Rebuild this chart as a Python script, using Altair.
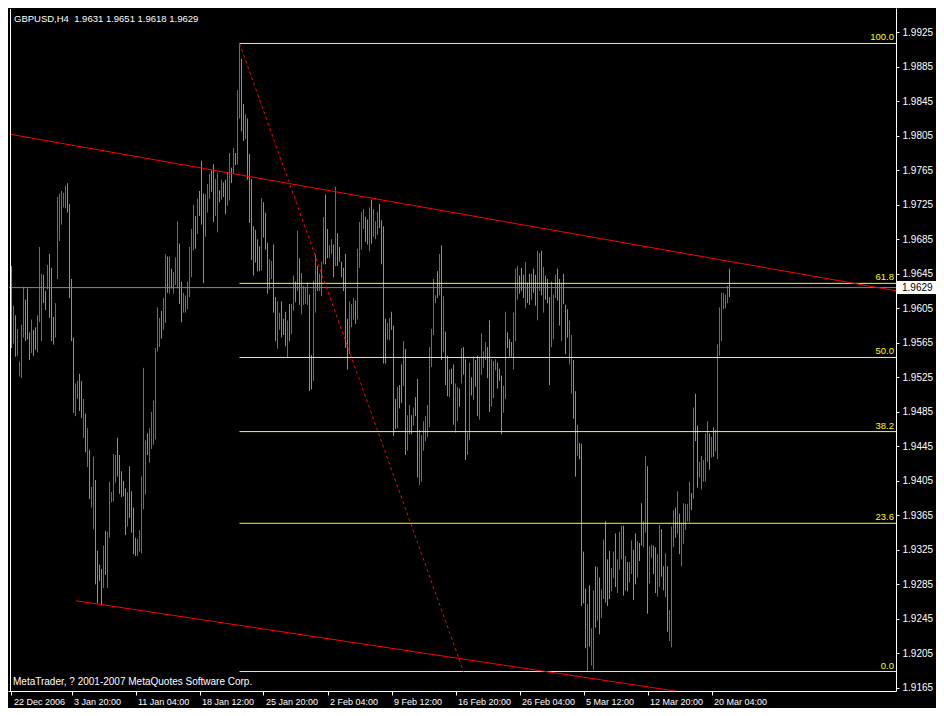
import json
import altair as alt
import pandas as pd

# ---------------- data ----------------
HIGH = [
    1.9654, 1.9608, 1.9597, 1.9581, 1.9543, 1.9586, 1.9630, 1.9615, 1.9628, 1.9577,
    1.9592, 1.9580, 1.9583, 1.9597, 1.9676, 1.9645, 1.9644, 1.9625, 1.9655, 1.9668,
    1.9652, 1.9595, 1.9611, 1.9734, 1.9738, 1.9741, 1.9739, 1.9747, 1.9750, 1.9726,
    1.9639, 1.9571, 1.9518, 1.9521, 1.9529, 1.9521, 1.9500, 1.9483, 1.9466, 1.9441,
    1.9398, 1.9433, 1.9406, 1.9324, 1.9308, 1.9303, 1.9330, 1.9347, 1.9346, 1.9404,
    1.9392, 1.9436, 1.9435, 1.9455, 1.9435, 1.9416, 1.9405, 1.9396, 1.9392, 1.9422,
    1.9393, 1.9374, 1.9339, 1.9338, 1.9348, 1.9410, 1.9536, 1.9452, 1.9460, 1.9466,
    1.9485, 1.9498, 1.9559, 1.9606, 1.9594, 1.9602, 1.9617, 1.9668, 1.9665, 1.9665,
    1.9651, 1.9647, 1.9664, 1.9706, 1.9680, 1.9636, 1.9623, 1.9620, 1.9636, 1.9676,
    1.9697, 1.9725, 1.9712, 1.9732, 1.9741, 1.9776, 1.9738, 1.9737, 1.9749, 1.9761,
    1.9765, 1.9772, 1.9755, 1.9762, 1.9742, 1.9754, 1.9751, 1.9754, 1.9762, 1.9785,
    1.9768, 1.9791, 1.9785, 1.9858, 1.9912, 1.9894, 1.9842, 1.9830, 1.9825, 1.9784,
    1.9755, 1.9700, 1.9696, 1.9685, 1.9677, 1.9733, 1.9728, 1.9716, 1.9681, 1.9662,
    1.9660, 1.9679, 1.9618, 1.9613, 1.9600, 1.9613, 1.9593, 1.9601, 1.9591, 1.9610,
    1.9610, 1.9643, 1.9636, 1.9695, 1.9663, 1.9646, 1.9631, 1.9630, 1.9635, 1.9621,
    1.9551, 1.9637, 1.9668, 1.9654, 1.9645, 1.9659, 1.9711, 1.9737, 1.9697, 1.9678,
    1.9685, 1.9679, 1.9746, 1.9692, 1.9676, 1.9659, 1.9652, 1.9668, 1.9593, 1.9613,
    1.9610, 1.9617, 1.9614, 1.9674, 1.9705, 1.9716, 1.9720, 1.9711, 1.9708, 1.9722,
    1.9731, 1.9720, 1.9706, 1.9717, 1.9726, 1.9707, 1.9700, 1.9593, 1.9588, 1.9594,
    1.9601, 1.9585, 1.9500, 1.9514, 1.9516, 1.9540, 1.9567, 1.9558, 1.9481, 1.9493,
    1.9481, 1.9490, 1.9502, 1.9523, 1.9464, 1.9458, 1.9474, 1.9480, 1.9493, 1.9560,
    1.9581, 1.9639, 1.9620, 1.9648, 1.9668, 1.9678, 1.9619, 1.9578, 1.9550, 1.9534,
    1.9535, 1.9540, 1.9518, 1.9514, 1.9512, 1.9559, 1.9560, 1.9546, 1.9461, 1.9542,
    1.9525, 1.9549, 1.9545, 1.9550, 1.9548, 1.9576, 1.9555, 1.9566, 1.9560, 1.9591,
    1.9546, 1.9544, 1.9546, 1.9542, 1.9535, 1.9527, 1.9515, 1.9601, 1.9577, 1.9569,
    1.9566, 1.9600, 1.9651, 1.9654, 1.9643, 1.9652, 1.9644, 1.9659, 1.9635, 1.9645,
    1.9645, 1.9651, 1.9644, 1.9672, 1.9669, 1.9672, 1.9653, 1.9643, 1.9639, 1.9618,
    1.9636, 1.9621, 1.9644, 1.9651, 1.9639, 1.9634, 1.9645, 1.9609, 1.9604, 1.9591,
    1.9574, 1.9545, 1.9509, 1.9470, 1.9449, 1.9448, 1.9323, 1.9280, 1.9262, 1.9284,
    1.9234, 1.9278, 1.9306, 1.9305, 1.9293, 1.9279, 1.9337, 1.9358, 1.9314, 1.9324,
    1.9304, 1.9323, 1.9344, 1.9314, 1.9346, 1.9353, 1.9353, 1.9318, 1.9311, 1.9311,
    1.9336, 1.9325, 1.9344, 1.9335, 1.9333, 1.9379, 1.9358, 1.9434, 1.9422, 1.9329,
    1.9331, 1.9330, 1.9328, 1.9320, 1.9354, 1.9349, 1.9306, 1.9321, 1.9306, 1.9255,
    1.9352, 1.9371, 1.9374, 1.9393, 1.9367, 1.9356, 1.9379, 1.9378, 1.9378, 1.9404,
    1.9391, 1.9490, 1.9506, 1.9469, 1.9427, 1.9434, 1.9429, 1.9460, 1.9474, 1.9460,
    1.9456, 1.9467, 1.9464, 1.9563, 1.9606, 1.9623, 1.9623, 1.9621, 1.9631, 1.9651,
]

LOW = [
    1.9559, 1.9564, 1.9549, 1.9550, 1.9526, 1.9524, 1.9571, 1.9567, 1.9569, 1.9545,
    1.9553, 1.9550, 1.9557, 1.9554, 1.9589, 1.9567, 1.9611, 1.9603, 1.9627, 1.9594,
    1.9567, 1.9563, 1.9571, 1.9639, 1.9683, 1.9702, 1.9722, 1.9721, 1.9716, 1.9617,
    1.9567, 1.9484, 1.9480, 1.9500, 1.9486, 1.9478, 1.9455, 1.9438, 1.9421, 1.9384,
    1.9374, 1.9349, 1.9285, 1.9263, 1.9289, 1.9261, 1.9281, 1.9296, 1.9281, 1.9339,
    1.9380, 1.9381, 1.9403, 1.9410, 1.9390, 1.9386, 1.9387, 1.9342, 1.9352, 1.9362,
    1.9345, 1.9320, 1.9318, 1.9318, 1.9323, 1.9321, 1.9372, 1.9389, 1.9435, 1.9426,
    1.9442, 1.9447, 1.9453, 1.9555, 1.9560, 1.9570, 1.9580, 1.9588, 1.9623, 1.9622,
    1.9628, 1.9622, 1.9632, 1.9628, 1.9610, 1.9589, 1.9600, 1.9600, 1.9604, 1.9618,
    1.9641, 1.9672, 1.9674, 1.9691, 1.9712, 1.9702, 1.9634, 1.9688, 1.9716, 1.9732,
    1.9740, 1.9705, 1.9712, 1.9693, 1.9728, 1.9731, 1.9734, 1.9714, 1.9724, 1.9730,
    1.9750, 1.9761, 1.9771, 1.9772, 1.9825, 1.9810, 1.9799, 1.9801, 1.9754, 1.9704,
    1.9661, 1.9643, 1.9658, 1.9648, 1.9648, 1.9649, 1.9687, 1.9673, 1.9622, 1.9627,
    1.9639, 1.9600, 1.9567, 1.9558, 1.9580, 1.9571, 1.9574, 1.9561, 1.9548, 1.9567,
    1.9575, 1.9602, 1.9612, 1.9625, 1.9609, 1.9598, 1.9609, 1.9610, 1.9609, 1.9509,
    1.9511, 1.9521, 1.9600, 1.9625, 1.9625, 1.9619, 1.9656, 1.9656, 1.9663, 1.9663,
    1.9668, 1.9641, 1.9654, 1.9654, 1.9659, 1.9641, 1.9625, 1.9559, 1.9534, 1.9552,
    1.9583, 1.9592, 1.9587, 1.9592, 1.9652, 1.9673, 1.9697, 1.9682, 1.9679, 1.9671,
    1.9680, 1.9688, 1.9685, 1.9690, 1.9698, 1.9656, 1.9541, 1.9541, 1.9569, 1.9568,
    1.9580, 1.9457, 1.9465, 1.9466, 1.9489, 1.9495, 1.9515, 1.9435, 1.9440, 1.9459,
    1.9459, 1.9469, 1.9480, 1.9409, 1.9400, 1.9404, 1.9440, 1.9451, 1.9456, 1.9467,
    1.9537, 1.9574, 1.9611, 1.9617, 1.9620, 1.9545, 1.9554, 1.9516, 1.9503, 1.9502,
    1.9517, 1.9470, 1.9461, 1.9474, 1.9491, 1.9518, 1.9528, 1.9429, 1.9435, 1.9452,
    1.9504, 1.9499, 1.9514, 1.9480, 1.9476, 1.9528, 1.9536, 1.9545, 1.9524, 1.9485,
    1.9491, 1.9501, 1.9533, 1.9512, 1.9521, 1.9459, 1.9484, 1.9500, 1.9559, 1.9549,
    1.9549, 1.9534, 1.9567, 1.9615, 1.9622, 1.9625, 1.9617, 1.9605, 1.9611, 1.9609,
    1.9615, 1.9623, 1.9608, 1.9591, 1.9625, 1.9620, 1.9600, 1.9615, 1.9611, 1.9516,
    1.9560, 1.9569, 1.9617, 1.9614, 1.9585, 1.9567, 1.9610, 1.9552, 1.9571, 1.9540,
    1.9506, 1.9477, 1.9410, 1.9434, 1.9430, 1.9260, 1.9263, 1.9211, 1.9184, 1.9213,
    1.9191, 1.9186, 1.9235, 1.9243, 1.9227, 1.9246, 1.9268, 1.9264, 1.9260, 1.9268,
    1.9277, 1.9292, 1.9282, 1.9275, 1.9302, 1.9314, 1.9272, 1.9278, 1.9277, 1.9287,
    1.9297, 1.9267, 1.9285, 1.9293, 1.9312, 1.9330, 1.9328, 1.9345, 1.9251, 1.9286,
    1.9316, 1.9297, 1.9275, 1.9271, 1.9282, 1.9294, 1.9278, 1.9270, 1.9230, 1.9219,
    1.9212, 1.9328, 1.9339, 1.9344, 1.9320, 1.9306, 1.9332, 1.9348, 1.9358, 1.9357,
    1.9371, 1.9384, 1.9451, 1.9397, 1.9409, 1.9395, 1.9404, 1.9404, 1.9427, 1.9418,
    1.9432, 1.9433, 1.9439, 1.9430, 1.9550, 1.9567, 1.9604, 1.9605, 1.9611, 1.9618,
]

# g = up bar, m = down bar
DIRS = (
    "gmgmmmmggg" "mggmmmggmg" "ggmmmmmmgg" "ggmmggmgmg" "mmggggmgmm"
    "mmmgggggmg" "gggmmmmmgm" "mmmmmgmmgm" "gmmmggmmmm" "mmgmgggmmm"
    "ggmmgmggmm" "gmgmmggmgg" "gggggmgggm" "mggmmgggmg" "mmgmgmmmmg"
    "gmmgmmmggm" "mgmggggggm" "mmgmmmmggm" "gmmmggggmm" "gggmggmgmm"
    "gmggmmmmmm" "mmmgmgmggm" "ggmmgmggmm" "gmggmmmmgg" "mmmgggmmgg"
    "gmmmgggmgg" "mggmmgmggg" "mmmggmgggm" "mggmggggmg" "mmgmgmmggg"
    "mmgmmmgmgm" "mggmggmmgm" "mggmmggmgm" "mmgmgmmmmm" "gmggmmmmmg"
    "mgmmmmmmmg"
)

TITLE = "GBPUSD,H4\u00a0\u00a01.9631 1.9651 1.9618 1.9629"
COPYRIGHT = "MetaTrader, ? 2001-2007 MetaQuotes Software Corp."

DATE_TICKS = [0, 30, 62, 94, 126, 158, 190, 222, 254, 286, 318, 350]
DATE_LABELS = ["22 Dec 2006", "3 Jan 20:00", "11 Jan 04:00", "18 Jan 12:00",
               "25 Jan 20:00", "2 Feb 04:00", "9 Feb 12:00", "16 Feb 20:00",
               "26 Feb 04:00", "5 Mar 12:00", "12 Mar 20:00", "20 Mar 04:00"]
PRICE_TICKS = [1.9165, 1.9205, 1.9245, 1.9285, 1.9325, 1.9365, 1.9405, 1.9445,
               1.9485, 1.9525, 1.9565, 1.9605, 1.9645, 1.9685, 1.9725, 1.9765,
               1.9805, 1.9845, 1.9885, 1.9925]

BID = 1.9629
FIB_HIGH = (114, 1.9912)   # (bar index, price)
FIB_LOW = (226, 1.9184)
FIB_RATIOS = [0.0, 23.6, 38.2, 50.0, 61.8, 100.0]
UPPER_LINE = [(-1.25, 1.9807), (450.35, 1.9622)]
LOWER_LINE = [(32.35, 1.9266), (450.35, 1.9120)]

# ---------------- styling ----------------
W, H = 888, 683
X_DOMAIN = [-1.75, 442.25]
Y_DOMAIN = [1.91614, 1.99531]
GREEN = "#32d21e"
MAGENTA = "#dc1edc"
YELLOW = "#ffff00"
RED = "#ff0000"
FONT = "Liberation Sans"

assert len(HIGH) == len(LOW) == len(DIRS)

xs = alt.Scale(domain=X_DOMAIN, nice=False, zero=False)
ys = alt.Scale(domain=Y_DOMAIN, nice=False, zero=False)

label_expr = f"{json.dumps(DATE_LABELS)}[indexof({json.dumps(DATE_TICKS)}, datum.value)]"

x_axis = alt.Axis(
    orient="bottom", values=DATE_TICKS, labelExpr=label_expr, title=None, grid=False,
    labelAlign="left", labelBaseline="top", labelPadding=2, labelOffset=2,
    labelFont=FONT, labelFontSize=9, labelColor="white", labelFlush=False,
    labelOverlap=False, tickColor="white", tickSize=4, domainColor="white",
    minExtent=17, maxExtent=17,
)
y_axis = alt.Axis(
    orient="right", values=PRICE_TICKS, format=".4f", title=None, grid=False,
    labelFont=FONT, labelFontSize=10, labelColor="white", labelPadding=3,
    labelFlush=False, labelOverlap=False, tickColor="white", tickSize=3,
    domainColor="white", minExtent=40, maxExtent=40,
)


def X(field):
    return alt.X(field, type="quantitative", scale=xs, axis=x_axis)


def Y(field):
    return alt.Y(field, type="quantitative", scale=ys, axis=y_axis)


bars_df = pd.DataFrame({
    "i": list(range(len(HIGH))),
    "high": HIGH,
    "low": LOW,
    "dir": ["up" if c == "g" else "down" for c in DIRS],
})

bars = alt.Chart(bars_df).mark_rule(strokeWidth=1).encode(
    x=X("i"),
    y=Y("high"),
    y2="low:Q",
    color=alt.Color("dir:N", scale=alt.Scale(domain=["up", "down"], range=[GREEN, MAGENTA]),
                    legend=None),
)

# trend lines
tl_df = pd.DataFrame({
    "x1": [UPPER_LINE[0][0], LOWER_LINE[0][0]],
    "p1": [UPPER_LINE[0][1], LOWER_LINE[0][1]],
    "x2": [UPPER_LINE[1][0], LOWER_LINE[1][0]],
    "p2": [UPPER_LINE[1][1], LOWER_LINE[1][1]],
})
trend = alt.Chart(tl_df).mark_rule(color=RED, strokeWidth=1, clip=True).encode(
    x=X("x1"), x2="x2:Q", y=Y("p1"), y2="p2:Q",
)

fib_diag_df = pd.DataFrame({"x1": [FIB_HIGH[0]], "p1": [FIB_HIGH[1]],
                            "x2": [FIB_LOW[0]], "p2": [FIB_LOW[1]]})
fib_diag = alt.Chart(fib_diag_df).mark_rule(color=RED, strokeWidth=1, strokeDash=[3, 3]).encode(
    x=X("x1"), x2="x2:Q", y=Y("p1"), y2="p2:Q",
)

fib_df = pd.DataFrame({
    "start": [FIB_HIGH[0]] * len(FIB_RATIOS),
    "price": [FIB_LOW[1] + r / 100.0 * (FIB_HIGH[1] - FIB_LOW[1]) for r in FIB_RATIOS],
    "label": [f"{r:.1f}" for r in FIB_RATIOS],
})
fib_lines = alt.Chart(fib_df).mark_rule(color=YELLOW, strokeWidth=1).encode(
    x=X("start"), x2=alt.value(W), y=Y("price"),
)
fib_text = alt.Chart(fib_df).mark_text(
    color=YELLOW, font=FONT, fontSize=9.5, align="right", baseline="bottom", dy=-1
).encode(x=alt.value(W - 2), y=Y("price"), text="label:N")

half = 6.5 * (Y_DOMAIN[1] - Y_DOMAIN[0]) / H
bid_df = pd.DataFrame({"bid": [BID], "top": [BID + half], "bot": [BID - half],
                       "txt": [f"{BID:.4f}"]})
bid_line = alt.Chart(bid_df).mark_rule(color="#778899", strokeWidth=1).encode(
    x=alt.value(1), x2=alt.value(W), y=Y("bid"),
)
bid_box = alt.Chart(bid_df).mark_rect(color="white").encode(
    x=alt.value(W + 1), x2=alt.value(W + 40), y=Y("top"), y2="bot:Q",
)
bid_text = alt.Chart(bid_df).mark_text(
    color="black", font=FONT, fontSize=10, align="left", baseline="middle"
).encode(x=alt.value(W + 6), y=Y("bid"), text="txt:N")

left_border = alt.Chart(bid_df).mark_rule(color="white", strokeWidth=1).encode(
    x=alt.value(2.5), y=alt.value(1), y2=alt.value(H),
)

title_df = pd.DataFrame({"t": [TITLE], "c": [COPYRIGHT]})
title_text = alt.Chart(title_df).mark_text(
    color="white", font=FONT, fontSize=9.5, align="left", baseline="alphabetic"
).encode(x=alt.value(6), y=alt.value(14), text="t:N")
copy_text = alt.Chart(title_df).mark_text(
    color="white", font=FONT, fontSize=10, align="left", baseline="alphabetic"
).encode(x=alt.value(5), y=alt.value(677), text="c:N")

chart = alt.layer(
    bars, fib_lines, bid_line, trend, fib_diag, left_border,
    fib_text, bid_box, bid_text, title_text, copy_text,
).properties(
    width=W, height=H, padding=0, background="black",
).configure_view(strokeWidth=0)

chart.save("out.html", embed_options={"renderer": "svg", "actions": False})
